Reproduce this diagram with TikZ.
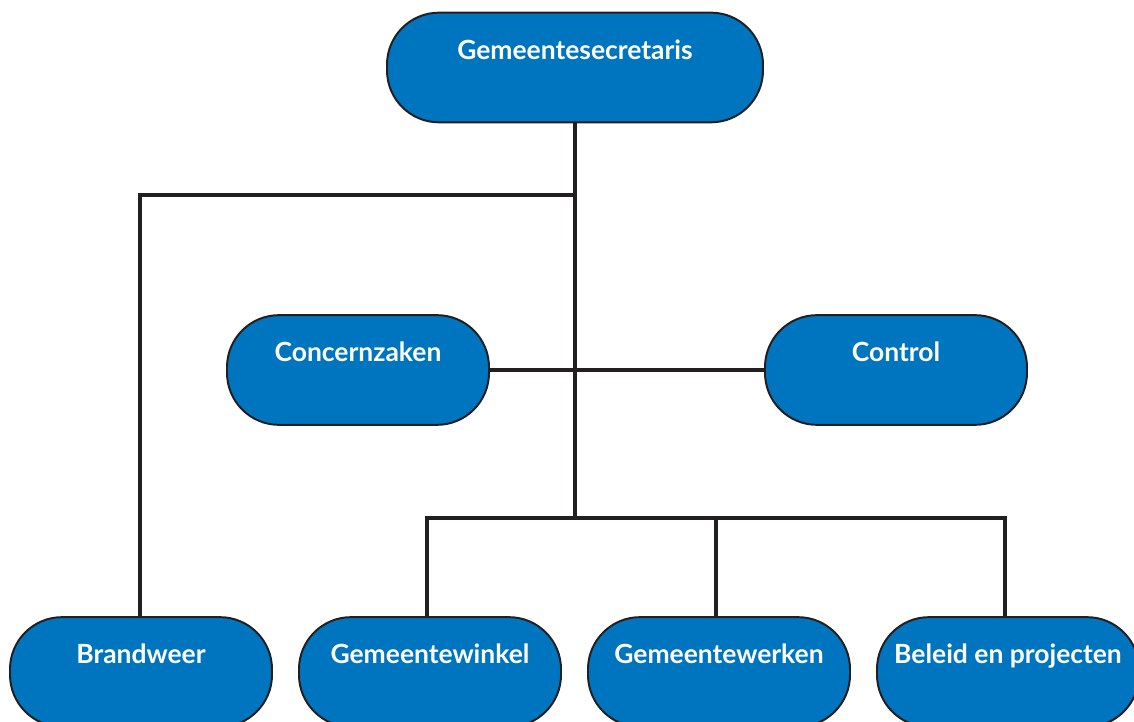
\documentclass[tikz,border=0pt]{standalone}
\usepackage{fontspec}
\setmainfont{Lato}
\definecolor{orgblue}{HTML}{0075BF}
\definecolor{orgline}{HTML}{231F20}
\begin{document}
\begin{tikzpicture}[x=0.025cm, y=-0.025cm,
    unit/.style={draw=orgline, line width=1.4pt, fill=orgblue, rounded corners=37pt,
        minimum width=262*0.025cm, inner ysep=0pt, text height=33pt, text depth=45pt,
        text=white, font=\fontsize{18.8}{21}\selectfont\bfseries},
    link/.style={draw=orgline, line width=2.9pt}]
    \useasboundingbox (0,0) rectangle (1134,722);
    \clip (0,0) rectangle (1134,722);
    % Top
    \node[unit, minimum width=376*0.025cm] (secr) at (575,67.5) {Gemeentesecretaris};
    % Staff
    \node[unit] (concern) at (358,370) {Concernzaken};
    \node[unit] (control) at (896,370) {Control};
    % Departments
    \node[unit] (brand) at (141,672) {Brandweer};
    \node[unit] (winkel) at (430,672) {Gemeentewinkel};
    \node[unit] (werken) at (719,672) {Gemeentewerken};
    \node[unit] (beleid) at (1008,672) {Beleid en projecten};
    % Connectors
    \coordinate (split1) at (575,195);
    \coordinate (split2) at (575,518);
    \draw[link] (secr.south) -- (split2);
    \draw[link] (split1) -| ([xshift=-1]brand.north);
    \draw[link] (concern.east) -- (control.west);
    \draw[link] ([xshift=-2]winkel.north) |- (split2) -| ([xshift=-2]beleid.north);
    \draw[link] ([xshift=-2]werken.north) -- ([xshift=-2]werken.north |- split2);
\end{tikzpicture}
\end{document}
